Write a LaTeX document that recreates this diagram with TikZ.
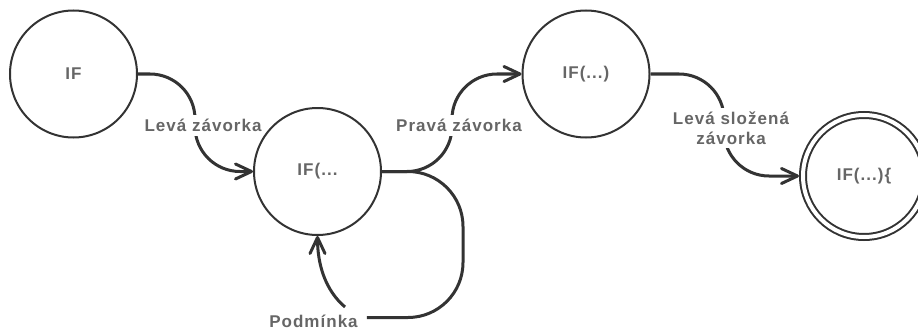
\documentclass[tikz,border=0pt]{standalone}
\usepackage{fontspec}
\setmainfont{Liberation Sans}[LetterSpace=6]
\usetikzlibrary{arrows.meta}
\definecolor{strokec}{HTML}{333333}
\definecolor{txtc}{HTML}{666666}
\begin{document}
\begin{tikzpicture}[x=1pt,y=-1pt,
  lblfont/.style={font=\bfseries\fontsize{17pt}{20pt}\selectfont, text=txtc},
  state/.style={circle, draw=strokec, line width=2pt, minimum size=127pt, inner sep=0pt, lblfont},
  edge/.style={draw=strokec, line width=3pt, rounded corners=45pt,
    -{Straight Barb[length=16pt,width=15pt,round]}},
  loopline/.style={draw=strokec, line width=3pt, rounded corners=55pt},
  lbl/.style={fill=white, lblfont, inner xsep=2pt, inner ysep=4pt, align=center}]
\useasboundingbox (0,0) rectangle (918,329);

\node[state] (i0) at (73.5,74) {IF};
\node[state] (i1) at (317.5,171.5) {IF(...};
\node[state] (i2) at (586,74) {IF(...)};
\node[state, double=white, double distance=4pt, minimum size=122pt, outer sep=4pt] (i3) at (864,176) {IF(...)\{};

\coordinate (m1) at (195,123);
\coordinate (m2) at (452,123);
\coordinate (m3) at (724,125);
\coordinate (lr) at (463,245);

\node[lbl] (p) at (313.5,321) {Podmínka};
\coordinate (pend) at ([xshift=7pt,yshift=3.5pt]p.east);

\draw[edge] (i0.east) -- (m1 |- i0.east) -- (m1 |- i1.west) -- (i1.west);
\draw[edge] (i1.east) -- (m2 |- i1.east) -- (m2 |- i2.west) -- (i2.west);
\draw[edge] (i2.east) -- (m3 |- i2.east) -- (m3 |- i3.west) -- (i3.west);
\draw[loopline] (i1.east) -- (lr |- i1.east) -- (lr |- pend) -- (pend);
\draw[edge] ([xshift=31.5pt,yshift=14pt]p.center) .. controls +(-20,-17) and +(0,28) .. (i1.south);

\node[lbl] (l1) at (203,125.5) {Levá závorka};
\node[lbl] (l2) at (459,125.5) {Pravá závorka};
\node[lbl] (l3) at (731,128) {Levá složená\\závorka};
\end{tikzpicture}
\end{document}
